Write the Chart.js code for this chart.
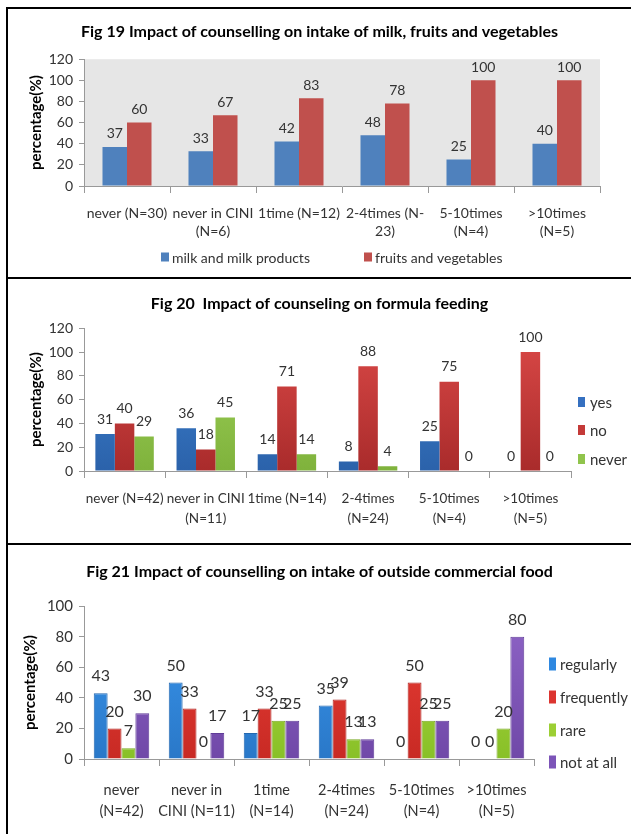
<!DOCTYPE html>
<html>
<head>
<meta charset="utf-8">
<script src="https://cdn.jsdelivr.net/npm/chart.js@4.4.1/dist/chart.umd.min.js"></script>
<style>
  body { margin: 0; background: #fff; width: 631px; height: 834px; overflow: hidden; position: relative; }
  .line { position: absolute; background: #000; }
  .box { position: absolute; left: 8px; }
</style>
</head>
<body>
<div class="line" style="left:6px;top:7px;width:625px;height:2px"></div>
<div class="line" style="left:6px;top:7px;width:2px;height:827px"></div>
<div class="line" style="left:6px;top:277px;width:625px;height:2px"></div>
<div class="line" style="left:6px;top:543px;width:625px;height:2px"></div>

<div class="box" style="top:9px"><canvas id="fig19" width="623" height="268"></canvas></div>
<div class="box" style="top:279px"><canvas id="fig20" width="623" height="264"></canvas></div>
<div class="box" style="top:545px"><canvas id="fig21" width="623" height="289"></canvas></div>

<script>
// ---- data ----
const fig19Labels = [['never (N=30)'], ['never in CINI', '(N=6)'], ['1time (N=12)'], ['2-4times (N-', '23)'], ['5-10times', '(N=4)'], ['>10times', '(N=5)']];
const milkProducts = [37, 33, 42, 48, 25, 40];
const fruitsVeg = [60, 67, 83, 78, 100, 100];

const fig20Labels = [['never (N=42)'], ['never in CINI', '(N=11)'], ['1time (N=14)'], ['2-4times', '(N=24)'], ['5-10times', '(N=4)'], ['>10times', '(N=5)']];
const formulaYes = [31, 36, 14, 8, 25, 0];
const formulaNo = [40, 18, 71, 88, 75, 100];
const formulaNever = [29, 45, 14, 4, 0, 0];

const fig21Labels = [['never', '(N=42)'], ['never in', 'CINI (N=11)'], ['1time', '(N=14)'], ['2-4times', '(N=24)'], ['5-10times', '(N=4)'], ['>10times', '(N=5)']];
const foodRegularly = [43, 50, 17, 35, 0, 0];
const foodFrequently = [20, 33, 33, 39, 50, 0];
const foodRare = [7, 0, 25, 13, 25, 20];
const foodNotAtAll = [30, 17, 25, 13, 25, 80];

const FONT = 'Lato, "Open Sans", sans-serif';
const TXT = '#333';

// numbers over the bars
const valueLabels = {
    id: 'valueLabels',
    afterDatasetsDraw(chart, args, opts) {
        const ctx = chart.ctx;
        ctx.save();
        ctx.font = opts.size + 'px ' + FONT;
        ctx.fillStyle = TXT;
        ctx.textAlign = 'center';
        ctx.textBaseline = 'bottom';
        chart.data.datasets.forEach((ds, i) => {
            chart.getDatasetMeta(i).data.forEach((bar, j) => {
                ctx.fillText(ds.data[j], bar.x, bar.y - opts.offset);
            });
        });
        ctx.restore();
    }
};

// grey plot area (fig 19 only)
const plotBg = {
    id: 'plotBg',
    beforeDraw(chart, args, opts) {
        if (!opts.color) return;
        const a = chart.chartArea;
        chart.ctx.save();
        chart.ctx.fillStyle = opts.color;
        chart.ctx.fillRect(a.left, a.top, a.right - a.left, a.bottom - a.top);
        chart.ctx.restore();
    }
};

// legend placed like the original figures
const fixedLegend = {
    id: 'fixedLegend',
    afterDraw(chart, args, opts) {
        const ctx = chart.ctx;
        ctx.save();
        ctx.font = opts.size + 'px ' + FONT;
        ctx.textBaseline = 'middle';
        chart.data.datasets.forEach((ds, i) => {
            const x = opts.spots[i][0], y = opts.spots[i][1];
            ctx.fillStyle = opts.colors[i];
            ctx.fillRect(x, y - opts.boxH / 2, opts.boxW, opts.boxH);
            ctx.fillStyle = TXT;
            ctx.fillText(ds.label, x + opts.boxW + opts.gap, y + 1);
        });
        ctx.restore();
    }
};

function vGrad(top, bottom) {
    return function (c) {
        const a = c.chart.chartArea;
        if (!a) return top;
        const g = c.chart.ctx.createLinearGradient(0, a.top, 0, a.bottom);
        g.addColorStop(0, top);
        g.addColorStop(1, bottom);
        return g;
    };
}

function axes(max, xSize, ySize, xHeight, xPad, xLine, titleGap, rightRoom) {
    return {
        x: {
            afterFit(s) { s.height = xHeight; },
            grid: { display: true, offset: true, drawOnChartArea: false, tickLength: 7, color: '#999' },
            border: { color: '#999' },
            ticks: { color: TXT, font: { family: FONT, size: xSize, lineHeight: xLine }, maxRotation: 0, autoSkip: false, padding: xPad }
        },
        y: {
            min: 0, max: max,
            afterFit(s) { s.width = 76; },
            grid: { drawOnChartArea: false, tickLength: 5, color: '#999' },
            border: { color: '#999' },
            ticks: { stepSize: 20, autoSkip: false, color: TXT, font: { family: FONT, size: ySize }, padding: 6 },
            title: { display: true, text: 'percentage(%)', color: '#000', padding: { top: titleGap, bottom: 0 }, font: { family: FONT, size: 15, weight: 'bold' } }
        },
        // empty axis on the right, only keeps room for the legend
        yr: {
            type: 'linear', axis: 'y', position: 'right',
            afterFit(s) { s.width = rightRoom; },
            grid: { display: false }, border: { display: false }, ticks: { display: false }
        }
    };
}

// ---- Fig 19 ----
new Chart(document.getElementById('fig19'), {
    type: 'bar',
    data: {
        labels: fig19Labels,
        datasets: [
            { label: 'milk and milk products', data: milkProducts, backgroundColor: '#4f81bd' },
            { label: 'fruits and vegetables', data: fruitsVeg, backgroundColor: '#c0504d' }
        ]
    },
    options: {
        responsive: false,
        animation: false,
        layout: { padding: { bottom: 31 } },
        datasets: { bar: { categoryPercentage: 0.57, barPercentage: 1 } },
        scales: axes(120, 14, 14, 60, 12, 1.25, 19, 31),
        plugins: {
            plotBg: { color: '#e6e6e6' },
            valueLabels: { size: 14, offset: 6 },
            fixedLegend: { spots: [[153, 248], [356, 248]], colors: ['#4f81bd', '#c0504d'], size: 14, boxW: 8, boxH: 9, gap: 3 },
            title: { display: true, text: 'Fig 19 Impact of counselling on intake of milk, fruits and vegetables', color: '#000', font: { family: FONT, size: 16, weight: 'bold' }, padding: { top: 13, bottom: 18 } },
            legend: { display: false },
            tooltip: { enabled: false }
        }
    },
    plugins: [valueLabels, plotBg, fixedLegend]
});

// ---- Fig 20 ----
new Chart(document.getElementById('fig20'), {
    type: 'bar',
    data: {
        labels: fig20Labels,
        datasets: [
            { label: 'yes', data: formulaYes, backgroundColor: vGrad('#3f86d6', '#2b62aa') },
            { label: 'no', data: formulaNo, backgroundColor: vGrad('#dc4a48', '#a92b2b') },
            { label: 'never', data: formulaNever, backgroundColor: vGrad('#a2d65c', '#7fb23c') }
        ]
    },
    options: {
        responsive: false,
        animation: false,
        layout: { padding: { bottom: 2 } },
        datasets: { bar: { categoryPercentage: 0.72, barPercentage: 1 } },
        scales: axes(120, 13.5, 14, 70, 11, 1.45, 19, 60),
        plugins: {
            valueLabels: { size: 14, offset: 8 },
            fixedLegend: { spots: [[570, 123], [570, 151], [570, 180]], colors: ['#3570c0', '#c43a38', '#90c44c'], size: 15, boxW: 7, boxH: 10, gap: 5 },
            title: { display: true, text: 'Fig 20  Impact of counseling on formula feeding', color: '#000', font: { family: FONT, size: 16, weight: 'bold' }, padding: { top: 15, bottom: 15 } },
            legend: { display: false },
            tooltip: { enabled: false }
        }
    },
    plugins: [valueLabels, fixedLegend]
});

// ---- Fig 21 ----
new Chart(document.getElementById('fig21'), {
    type: 'bar',
    data: {
        labels: fig21Labels,
        datasets: [
            { label: 'regularly', data: foodRegularly, backgroundColor: vGrad('#3a98f0', '#2a78c8'), borderColor: '#2468b0', borderWidth: 1 },
            { label: 'frequently', data: foodFrequently, backgroundColor: vGrad('#ec4038', '#c82a24'), borderColor: '#b02420', borderWidth: 1 },
            { label: 'rare', data: foodRare, backgroundColor: vGrad('#b0dc40', '#88c028'), borderColor: '#78a820', borderWidth: 1 },
            { label: 'not at all', data: foodNotAtAll, backgroundColor: vGrad('#9066c8', '#7048a8'), borderColor: '#603c98', borderWidth: 1 }
        ]
    },
    options: {
        responsive: false,
        animation: false,
        layout: { padding: { bottom: 2 } },
        datasets: { bar: { categoryPercentage: 0.74, barPercentage: 1 } },
        scales: axes(100, 14.5, 15, 73, 13, 1.5, 13, 97),
        plugins: {
            valueLabels: { size: 16, offset: 9 },
            fixedLegend: { spots: [[541, 119], [541, 152], [541, 185], [541, 217]], colors: ['#2f88e0', '#dc3530', '#9ccf34', '#7c54b8'], size: 15, boxW: 7, boxH: 13, gap: 4 },
            title: { display: true, text: 'Fig 21 Impact of counselling on intake of outside commercial food', color: '#000', font: { family: FONT, size: 16, weight: 'bold' }, padding: { top: 17, bottom: 25 } },
            legend: { display: false },
            tooltip: { enabled: false }
        }
    },
    plugins: [valueLabels, fixedLegend]
});
</script>
</body>
</html>
